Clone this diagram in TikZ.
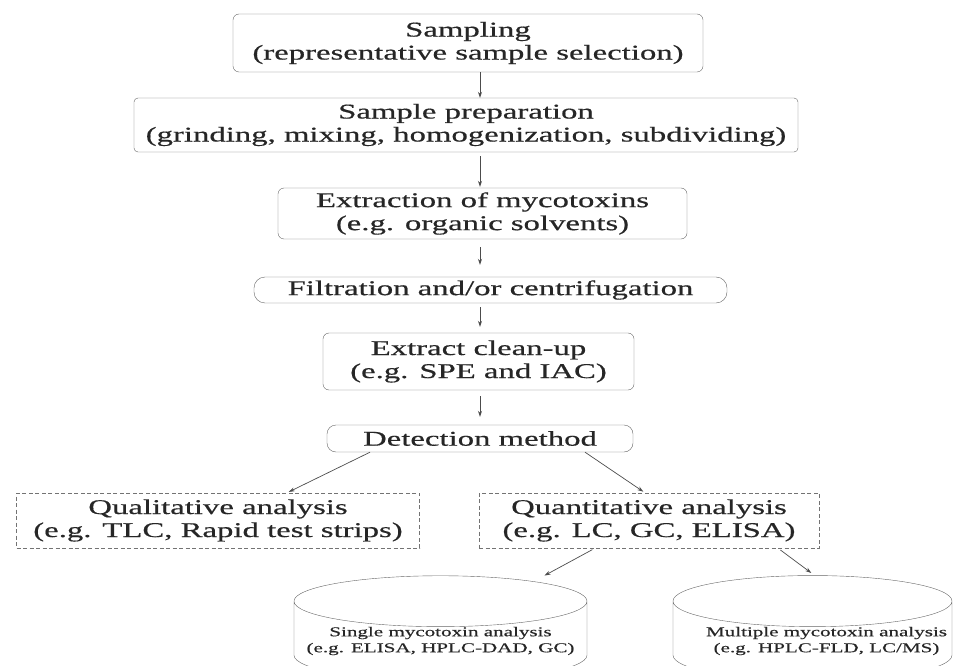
\documentclass[tikz,border=0pt]{standalone}
\usepackage{fontspec}
\setmainfont[FakeStretch=1.56,FakeBold=0.5]{Liberation Serif}
\usetikzlibrary{shapes.geometric,arrows.meta}

\tikzset{
  stepbox/.style={draw=black!60, rounded corners=6pt, align=center, text=black!85,
    inner sep=0pt, font=\fontsize{21}{23}\selectfont},
  dashbox/.style={draw=black!55, dash pattern=on 4pt off 2.5pt, align=center, text=black!85,
    inner sep=0pt, font=\fontsize{21}{23}\selectfont},
  drum/.style={cylinder, shape border rotate=90, aspect=0.19, draw=black!60, align=center,
    text=black!85, inner sep=0pt, font=\fontsize{13.5}{16}\selectfont},
  arr/.style={-{Stealth[length=6pt,width=4pt]}, draw=black!70, line width=0.7pt}
}

\begin{document}
\begin{tikzpicture}[x=1pt,y=-1pt]
    \useasboundingbox (0,0) rectangle (954,666);
    \clip (0,0) rectangle (954,666);
    % main steps
    \node[stepbox, minimum width=470pt, minimum height=58pt] (samp) at (468,43)
        {Sampling\\(representative sample selection)};
    \node[stepbox, minimum width=664pt, minimum height=54pt, rounded corners=4pt] (prep) at (466,125)
        {Sample preparation\\(grinding, mixing, homogenization, subdividing)};
    \node[stepbox, minimum width=409pt, minimum height=51pt] (extr) at (482.5,213.5)
        {Extraction of mycotoxins\\(e.g. organic solvents)};
    \node[stepbox, minimum width=473pt, minimum height=26pt, rounded corners=11pt] (filt) at (490.5,290)
        {Filtration and/or centrifugation};
    \node[stepbox, minimum width=311pt, minimum height=57pt] (clean) at (478.5,361.5)
        {Extract clean-up\\(e.g. SPE and IAC)};
    \node[stepbox, minimum width=306pt, minimum height=27pt, rounded corners=9pt] (detect) at (480,438.5)
        {Detection method};
    % analysis types
    \node[dashbox, minimum width=403pt, minimum height=55pt] (qual) at (218,520.5)
        {Qualitative analysis\\(e.g. TLC, Rapid test strips)};
    \node[dashbox, minimum width=340pt, minimum height=55pt] (quant) at (649,520.5)
        {Quantitative analysis\\(e.g. LC, GC, ELISA)};
    % cylinders
    \node[drum, minimum width=293pt, minimum height=85pt] (single) at (440.5,641)
        {Single mycotoxin analysis\\(e.g. ELISA, HPLC-DAD, GC)};
    \node[drum, minimum width=279pt, minimum height=85pt] (multi) at (812.5,641)
        {\hspace*{28pt}Multiple mycotoxin analysis\\\hspace*{28pt}(e.g. HPLC-FLD, LC/MS)};

    \draw[arr] (samp.south -| detect) -- (prep.north -| detect);
    \draw[arr, shorten <=4pt, shorten >=1pt] (prep.south -| detect) -- (extr.north -| detect);
    \draw[arr, shorten <=8pt, shorten >=12pt] (extr.south -| detect) -- (filt.north -| detect);
    \draw[arr, shorten <=4pt, shorten >=6pt] (filt.south -| detect) -- (clean.north -| detect);
    \draw[arr, shorten <=6pt, shorten >=8pt] (clean.south -| detect) -- (detect.north);
    \draw[arr, shorten >=2pt] ([xshift=-110pt]detect.south) -- ([xshift=69pt]qual.north);
    \draw[arr, shorten >=2pt] ([xshift=105pt]detect.south) -- ([xshift=-4pt]quant.north);
    \draw[arr, shorten <=3pt] ([xshift=-54pt]quant.south) -- ([xshift=104pt]single.north);
    \draw[arr, shorten <=3pt, shorten >=4pt] ([xshift=129pt]quant.south) -- ([xshift=2pt]multi.north);
\end{tikzpicture}
\end{document}
